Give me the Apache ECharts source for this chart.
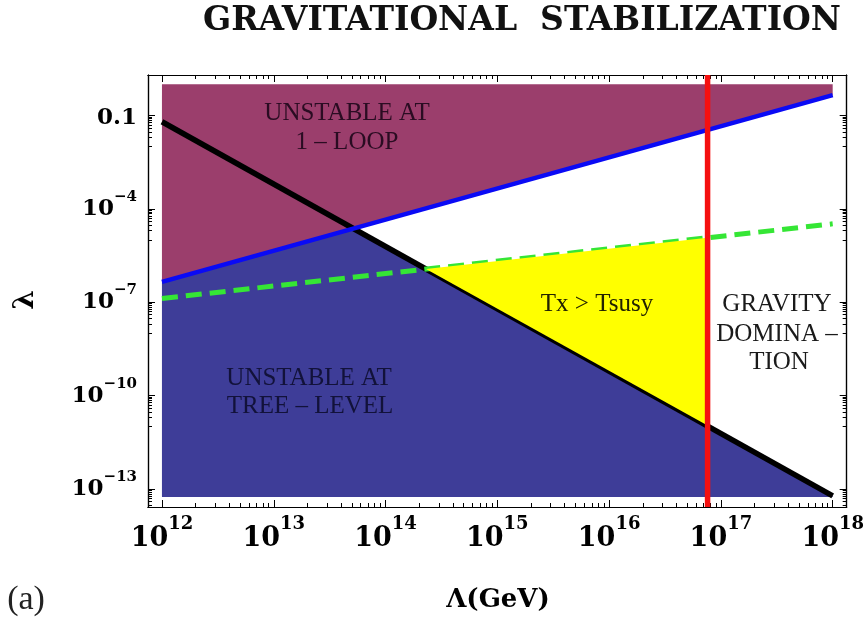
<!DOCTYPE html>
<html>
<head>
<meta charset="utf-8">
<script src="https://cdn.jsdelivr.net/npm/echarts@6/dist/echarts.min.js"></script>
<style>
  html, body { margin: 0; padding: 0; background: #ffffff; }
  #chart { width: 867px; height: 628px; }
</style>
</head>
<body>
<div id="chart"></div>
<script>
// Axis ranges (cut-off scale Λ in GeV, coupling λ)
const cutoffRange = [7.5e11, 1.334e18];
const couplingRange = [2.64e-14, 2.0];

// Labelled decades
const xDecades = [12, 13, 14, 15, 16, 17, 18];
const yLabelDecades = [-1, -4, -7, -10, -13];

// Boundary lines, as [Λ, λ] end points
const treeLevelLine = [[1e12, 0.063], [1e18, 6.0e-14]];     // black
const oneLoopLine = [[1e12, 4.5e-7], [1e18, 0.45]];        // blue
const tsusyLine = [[1e12, 1.32e-7], [1e18, 3.3e-5]];       // green, dashed
const gravityCutoff = 7.6e16;                              // red, vertical

// Shaded regions, as [Λ, λ] vertices
const oneLoopRegion = [[1e12, 4.5e-7], [1e12, 1.0], [1e18, 1.0], [1e18, 0.45]];
const treeLevelRegion = [[1e12, 5.5e-14], [1e12, 4.5e-7], [5.2e13, 2.3e-5], [1e18, 6.0e-14], [1e18, 5.5e-14]];
const hotRegion = [[2.3e14, 1.17e-6], [7.6e16, 1.18e-5], [7.6e16, 1.1e-11]];

const lg = Math.log10;
const toLog = p => [lg(p[0]), lg(p[1])];

const xLo = lg(cutoffRange[0]), xHi = lg(cutoffRange[1]);
const yLo = lg(couplingRange[0]), yHi = lg(couplingRange[1]);

// log-style tick positions (in decades)
const logK = [2, 3, 4, 5, 6, 7, 8, 9].map(k => lg(k));
const xMinor = [];
for (let d = 12; d < 18; d++) logK.forEach(f => xMinor.push(d + f));
const yMinor = [];
yLabelDecades.forEach(L => {
  logK.forEach(f => { const v = L - 1 + f; if (v > yLo) yMinor.push(v); });
  if (L - 1 > yLo) yMinor.push(L - 1);
});

const SERIF = '"DejaVu Serif", serif';
const TIMES = '"Liberation Serif", "Times New Roman", serif';

function xAxisDef(position, ticks, len, withLabels) {
  return {
    type: 'value', position, min: xLo, max: xHi,
    axisLine: { show: true, onZero: false, lineStyle: { color: '#000', width: 1.2 } },
    axisTick: { show: true, inside: true, length: len, customValues: ticks, lineStyle: { color: '#000', width: 1 } },
    axisLabel: withLabels ? {
      show: true, customValues: xDecades, margin: 17,
      formatter: v => '{b|10}{s|' + Math.round(v) + '}',
      rich: {
        b: { fontFamily: SERIF, fontWeight: 'bold', fontSize: 27, lineHeight: 28, padding: [8, 0, 0, 0], verticalAlign: 'bottom', color: '#000' },
        s: { fontFamily: SERIF, fontWeight: 'bold', fontSize: 18, lineHeight: 18, padding: [0, 0, 19, 0], verticalAlign: 'bottom', color: '#000' }
      }
    } : { show: false },
    splitLine: { show: false }
  };
}

function yAxisDef(position, ticks, len, withLabels) {
  return {
    type: 'value', position, min: yLo, max: yHi,
    axisLine: { show: true, onZero: false, lineStyle: { color: '#000', width: 1.2 } },
    axisTick: { show: true, inside: true, length: len, customValues: ticks, lineStyle: { color: '#000', width: 1 } },
    axisLabel: withLabels ? {
      show: true, customValues: yLabelDecades, margin: 11,
      formatter: v => {
        const d = Math.round(v);
        return d === -1 ? '{p|0.1}' : '{b|10}{s|\u2212' + Math.abs(d) + '}';
      },
      rich: {
        p: { fontFamily: SERIF, fontWeight: 'bold', fontSize: 23, lineHeight: 23, padding: [6, 0, 0, 0], color: '#000' },
        b: { fontFamily: SERIF, fontWeight: 'bold', fontSize: 23, lineHeight: 23, padding: [14, 0, 0, 0], verticalAlign: 'bottom', color: '#000' },
        s: { fontFamily: SERIF, fontWeight: 'bold', fontSize: 15, lineHeight: 15, padding: [0, 0, 16, 0], verticalAlign: 'bottom', color: '#000' }
      }
    } : { show: false },
    splitLine: { show: false }
  };
}

function regionSeries(name, verts, color, z) {
  const pts = verts.map(toLog);
  return {
    type: 'custom', name, z, silent: true, clip: true,
    data: [pts[0]],
    renderItem: (params, api) => ({
      type: 'polygon',
      shape: { points: pts.map(p => api.coord(p)) },
      style: { fill: color }
    })
  };
}

function lineSeries(name, pts, color, width, z, dash) {
  return {
    type: 'line', name, z, silent: true, symbol: 'none', animation: false,
    data: pts.map(toLog),
    lineStyle: { color, width, type: dash || 'solid', cap: 'butt' }
  };
}

function label(text, x, y, size, color, extra) {
  return Object.assign({
    type: 'text', x, y, silent: true, z: 100,
    style: {
      text, fill: color, font: size + 'px ' + TIMES,
      align: 'center', verticalAlign: 'middle',
      textAlign: 'center', textVerticalAlign: 'middle'
    }
  }, extra || {});
}

const chart = echarts.init(document.getElementById('chart'), null, { renderer: 'canvas' });

chart.setOption({
  animation: false,
  backgroundColor: '#ffffff',
  grid: { left: 148, right: 19, top: 75, bottom: 121 },
  xAxis: [
    xAxisDef('bottom', xDecades, 7, true),
    xAxisDef('bottom', xMinor, 4, false),
    xAxisDef('top', xDecades, 7, false),
    xAxisDef('top', xMinor, 4, false)
  ],
  yAxis: [
    yAxisDef('left', yLabelDecades, 7, true),
    yAxisDef('left', yMinor, 4, false),
    yAxisDef('right', yLabelDecades, 7, false),
    yAxisDef('right', yMinor, 4, false)
  ],
  series: [
    regionSeries('unstable at 1-loop', oneLoopRegion, '#9b3e6c', 1),
    regionSeries('unstable at tree-level', treeLevelRegion, '#3e3d98', 1),
    lineSeries('tree level', treeLevelLine, '#000000', 5.5, 3),
    lineSeries('one loop', oneLoopLine, '#0a0af5', 4.5, 3),
    lineSeries('Tsusy', tsusyLine, '#35e635', 5, 4, [16, 8]),
    regionSeries('Tx > Tsusy', hotRegion, '#ffff00', 5),
    {
      type: 'line', name: 'gravity', z: 6, silent: true, symbol: 'none',
      data: [[lg(gravityCutoff), yLo], [lg(gravityCutoff), yHi]],
      lineStyle: { color: '#f51010', width: 5.5 }
    }
  ],
  graphic: [
    {
      type: 'text', x: 522, y: 21, silent: true,
      style: {
        text: 'GRAVITATIONAL  STABILIZATION', fill: '#111',
        font: 'bold 33px ' + SERIF,
        align: 'center', verticalAlign: 'middle', textAlign: 'center', textVerticalAlign: 'middle'
      }
    },
    label('UNSTABLE AT', 347, 113, 25, '#2a0c22'),
    label('1 \u2013 LOOP', 347, 142, 25, '#2a0c22'),
    label('UNSTABLE AT', 309, 378, 25, '#12123a'),
    label('TREE \u2013 LEVEL', 310, 406, 25, '#12123a'),
    label('Tx > Tsusy', 597, 304, 25, '#222200'),
    label('GRAVITY', 777, 304, 25, '#1a1a1a'),
    label('DOMINA \u2013', 777, 334, 25, '#1a1a1a'),
    label('TION', 779, 362, 25, '#1a1a1a'),
    {
      type: 'text', x: 26, y: 300, rotation: Math.PI / 2, silent: true,
      style: {
        text: '\u03bb', fill: '#000', font: 'bold 28px ' + SERIF,
        align: 'center', verticalAlign: 'middle', textAlign: 'center', textVerticalAlign: 'middle'
      }
    },
    {
      type: 'text', x: 498, y: 600, silent: true,
      style: {
        text: '\u039b(GeV)', fill: '#000', font: 'bold 26px ' + SERIF,
        align: 'center', verticalAlign: 'middle', textAlign: 'center', textVerticalAlign: 'middle'
      }
    },
    {
      type: 'text', x: 26, y: 600, silent: true,
      style: {
        text: '(a)', fill: '#222', font: '34px ' + TIMES,
        align: 'center', verticalAlign: 'middle', textAlign: 'center', textVerticalAlign: 'middle'
      }
    }
  ]
});
</script>
</body>
</html>
